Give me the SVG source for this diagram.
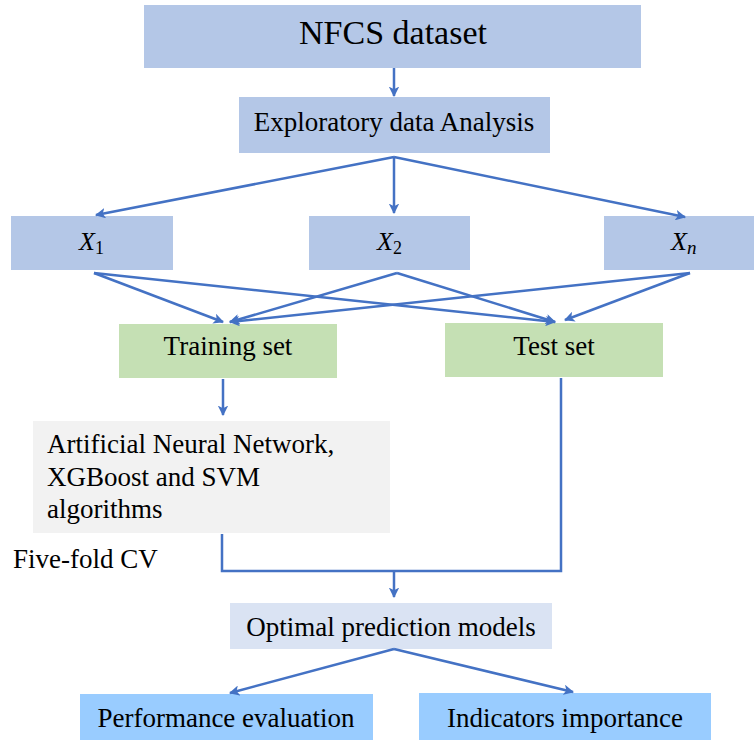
<svg xmlns="http://www.w3.org/2000/svg" width="754" height="740" viewBox="0 0 754 740">
<defs>
<style>
.t{font-family:"Liberation Serif","Times New Roman",serif;fill:#000;font-size:27px;}
.c{stroke:#4472c4;stroke-width:2.5;fill:none;}
.a{marker-end:url(#ah);}
</style>
<marker id="ah" viewBox="0 0 10 10" refX="9" refY="5" markerWidth="4.2" markerHeight="4.2" orient="auto" markerUnits="strokeWidth">
<path d="M0,0 L10,5 L0,10 L2.5,5 z" fill="#4472c4"/>
</marker>
</defs>
<rect width="754" height="740" fill="#fff"/>
<g id="nfcs"><rect x="144" y="5" width="497" height="63" fill="#b4c7e7"/><text class="t" x="393" y="44" style="font-size:34px" text-anchor="middle">NFCS dataset</text></g>
<g id="eda"><rect x="239" y="97" width="311" height="56" fill="#b4c7e7"/><text class="t" x="394" y="131" text-anchor="middle">Exploratory data Analysis</text></g>
<g id="x1"><rect x="11" y="216" width="162" height="54" fill="#b4c7e7"/><text class="t" x="79" y="250" style="font-size:26px"><tspan font-style="italic">X</tspan><tspan font-size="18" dy="4">1</tspan></text></g>
<g id="x2"><rect x="309" y="216" width="161" height="54" fill="#b4c7e7"/><text class="t" x="377" y="250" style="font-size:26px"><tspan font-style="italic">X</tspan><tspan font-size="18" dy="4">2</tspan></text></g>
<g id="xn"><rect x="604" y="216" width="150" height="54" fill="#b4c7e7"/><text class="t" x="671" y="250" style="font-size:26px"><tspan font-style="italic">X</tspan><tspan font-size="19" dy="4" font-style="italic">n</tspan></text></g>
<g id="train"><rect x="119" y="324" width="218" height="54" fill="#c5e0b4"/><text class="t" x="228" y="355" text-anchor="middle">Training set</text></g>
<g id="test"><rect x="445" y="323" width="218" height="54" fill="#c5e0b4"/><text class="t" x="554" y="355" text-anchor="middle">Test set</text></g>
<g id="algo"><rect x="33" y="421" width="357" height="112" fill="#f2f2f2"/><text class="t"><tspan x="47" y="453">Artificial Neural Network,</tspan><tspan x="47" y="486">XGBoost and SVM</tspan><tspan x="47" y="518">algorithms</tspan></text></g>
<g id="cv"><text class="t" x="13" y="568">Five-fold CV</text></g>
<g id="opt"><rect x="230" y="603" width="322" height="46" fill="#dae3f3"/><text class="t" x="391" y="636" text-anchor="middle">Optimal prediction models</text></g>
<g id="perf"><rect x="80" y="694" width="293" height="46" fill="#99ccff"/><text class="t" x="226" y="727" text-anchor="middle">Performance evaluation</text></g>
<g id="ind"><rect x="419" y="693" width="292" height="47" fill="#99ccff"/><text class="t" x="565" y="727" text-anchor="middle">Indicators importance</text></g>
<g id="connectors">
<line class="c a" x1="394" y1="68" x2="394" y2="96"/>
<line class="c a" x1="394" y1="157" x2="96" y2="215"/>
<line class="c a" x1="394" y1="157" x2="394" y2="213"/>
<line class="c a" x1="394" y1="157" x2="685" y2="217"/>
<line class="c a" x1="94" y1="273" x2="223" y2="322"/>
<line class="c a" x1="94" y1="273" x2="555" y2="322"/>
<line class="c a" x1="397" y1="273" x2="230" y2="322"/>
<line class="c a" x1="397" y1="273" x2="555" y2="322"/>
<line class="c a" x1="690" y1="273" x2="230" y2="322"/>
<line class="c a" x1="690" y1="273" x2="565" y2="320"/>
<line class="c a" x1="223" y1="379" x2="223" y2="415"/>
<polyline class="c" points="222,534 222,571 561,571 561,378"/>
<line class="c a" x1="394" y1="571" x2="394" y2="597"/>
<line class="c a" x1="394" y1="649" x2="230" y2="693"/>
<line class="c a" x1="394" y1="649" x2="573" y2="692"/>
</g>
</svg>
